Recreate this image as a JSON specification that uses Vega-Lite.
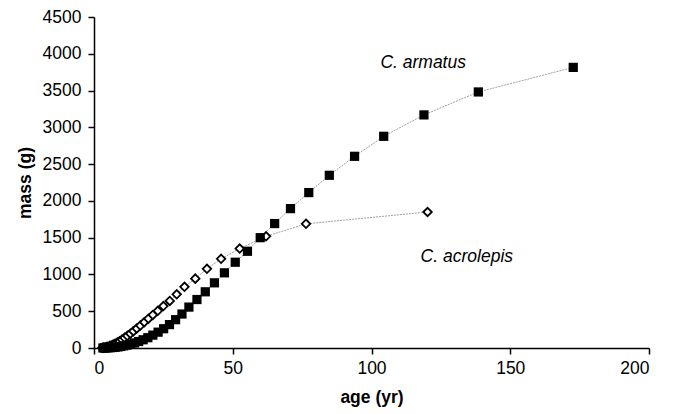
{
  "$schema": "https://vega.github.io/schema/vega-lite/v6.json",
  "autosize": {"type": "none"},
  "width": 555,
  "height": 331,
  "padding": {"left": 94, "top": 17, "right": 26, "bottom": 66},
  "background": "white",
  "config": {
    "view": {"stroke": null},
    "font": "Liberation Sans",
    "axis": {"grid": false, "domainColor": "black", "tickColor": "black", "domainWidth": 1.5, "tickWidth": 1.5, "tickSize": 6, "labelFont": "Liberation Sans", "labelFontSize": 17.5, "labelColor": "black", "titleFont": "Liberation Sans", "titleFontSize": 17.5, "titleFontWeight": "bold", "titleColor": "black"}
  },
  "datasets": {
    "armatus": [
      {"age": 3.2, "mass": 0.5}, {"age": 3.8, "mass": 1}, {"age": 4.4, "mass": 2}, {"age": 5.1, "mass": 3}, {"age": 5.9, "mass": 5},
      {"age": 6.7, "mass": 7}, {"age": 7.6, "mass": 10}, {"age": 8.6, "mass": 15}, {"age": 9.6, "mass": 21}, {"age": 10.7, "mass": 29},
      {"age": 11.9, "mass": 39}, {"age": 13.2, "mass": 52}, {"age": 14.6, "mass": 68}, {"age": 16.1, "mass": 88}, {"age": 17.7, "mass": 112},
      {"age": 19.4, "mass": 140}, {"age": 21.2, "mass": 175}, {"age": 23.1, "mass": 215}, {"age": 25.1, "mass": 262}, {"age": 27.2, "mass": 318},
      {"age": 29.4, "mass": 385}, {"age": 31.7, "mass": 462}, {"age": 34.2, "mass": 556}, {"age": 37.1, "mass": 659}, {"age": 40.1, "mass": 764},
      {"age": 43.4, "mass": 886}, {"age": 47.0, "mass": 1022}, {"age": 50.9, "mass": 1166}, {"age": 55.3, "mass": 1315}, {"age": 59.9, "mass": 1500},
      {"age": 65.1, "mass": 1692}, {"age": 70.8, "mass": 1895}, {"age": 77.4, "mass": 2113}, {"age": 84.8, "mass": 2348}, {"age": 93.9, "mass": 2606},
      {"age": 104.4, "mass": 2878}, {"age": 118.9, "mass": 3169}, {"age": 138.5, "mass": 3481}, {"age": 172.7, "mass": 3815}
    ],
    "acrolepis": [
      {"age": 3.0, "mass": 3}, {"age": 3.4, "mass": 5}, {"age": 3.9, "mass": 8}, {"age": 4.4, "mass": 12}, {"age": 5.0, "mass": 18},
      {"age": 5.6, "mass": 26}, {"age": 6.2, "mass": 35}, {"age": 6.9, "mass": 46}, {"age": 7.6, "mass": 59}, {"age": 8.4, "mass": 75},
      {"age": 9.2, "mass": 93}, {"age": 10.1, "mass": 114}, {"age": 11.0, "mass": 138}, {"age": 12.0, "mass": 165}, {"age": 13.1, "mass": 195},
      {"age": 14.2, "mass": 228}, {"age": 15.4, "mass": 265}, {"age": 16.7, "mass": 305}, {"age": 18.1, "mass": 350}, {"age": 19.6, "mass": 398},
      {"age": 21.2, "mass": 450}, {"age": 23.0, "mass": 505}, {"age": 25.0, "mass": 570}, {"age": 27.3, "mass": 640}, {"age": 29.8, "mass": 730},
      {"age": 32.6, "mass": 832}, {"age": 36.5, "mass": 943}, {"age": 40.7, "mass": 1076}, {"age": 45.8, "mass": 1212}, {"age": 52.5, "mass": 1352},
      {"age": 62.0, "mass": 1519}, {"age": 76.4, "mass": 1688}, {"age": 120.2, "mass": 1849}
    ],
    "labels": [
      {"age": 103.2, "mass": 3879, "text": "C. armatus"},
      {"age": 117.7, "mass": 1243, "text": "C. acrolepis"}
    ]
  },
  "encoding": {
    "x": {"field": "age", "type": "quantitative", "scale": {"domain": [0, 200], "nice": false}, "axis": {"title": "age (yr)", "values": [0, 50, 100, 150, 200], "format": "d", "labelPadding": 5, "titlePadding": 12}},
    "y": {"field": "mass", "type": "quantitative", "scale": {"domain": [0, 4500], "nice": false}, "axis": {"title": "mass (g)", "values": [0, 500, 1000, 1500, 2000, 2500, 3000, 3500, 4000, 4500], "format": "d", "labelPadding": 7, "titlePadding": 8}}
  },
  "layer": [
    {"data": {"name": "acrolepis"}, "mark": {"type": "line", "color": "#888888", "strokeWidth": 0.8, "strokeDash": [2, 1]}},
    {"data": {"name": "armatus"}, "mark": {"type": "line", "color": "#888888", "strokeWidth": 0.8, "strokeDash": [2, 1]}},
    {"data": {"name": "acrolepis"}, "mark": {"type": "point", "shape": "diamond", "size": 72, "filled": true, "fill": "white", "stroke": "black", "strokeWidth": 1.8, "opacity": 1}},
    {"data": {"name": "armatus"}, "mark": {"type": "point", "shape": "square", "size": 85, "filled": true, "color": "black", "opacity": 1}},
    {"data": {"name": "labels"}, "mark": {"type": "text", "align": "left", "baseline": "middle", "fontStyle": "italic", "fontSize": 17.5, "font": "Liberation Sans", "color": "black"}, "encoding": {"text": {"field": "text"}}}
  ]
}
